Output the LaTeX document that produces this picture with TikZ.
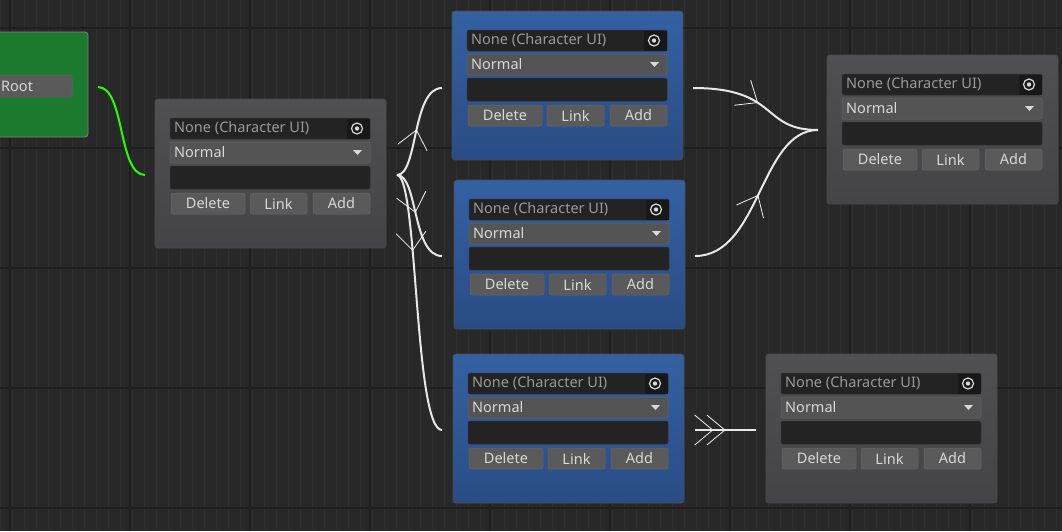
\documentclass[tikz,border=0pt]{standalone}
\usepackage{fontspec}
\setmainfont{Noto Sans}
\usetikzlibrary{arrows.meta,decorations.markings}
\definecolor{bg}{HTML}{282828}
\definecolor{gmin}{HTML}{303030}
\definecolor{gmaj}{HTML}{1E1E1E}
\definecolor{grayTop}{HTML}{505053}
\definecolor{grayBot}{HTML}{444447}
\definecolor{blueTop}{HTML}{3461A3}
\definecolor{blueBot}{HTML}{2A4C85}
\definecolor{fieldc}{HTML}{232323}
\definecolor{dropc}{HTML}{545454}
\definecolor{btnc}{HTML}{5A5A5A}
\definecolor{txt}{HTML}{D8D8D8}
\definecolor{dimtxt}{HTML}{9A9A9A}
\definecolor{greenN}{HTML}{1D7B2F}
\definecolor{wire}{HTML}{E8E8E8}
\tikzset{
  x=1pt,y=-1pt,
  nodebody/.style={rounded corners=3pt,draw=black!70,line width=0.8pt},
  fieldbox/.style={fill=fieldc,draw=black!80,rounded corners=2pt,line width=0.5pt},
  dropbox/.style={fill=dropc,draw=black!60,rounded corners=2pt,line width=0.5pt},
  btnbox/.style={fill=btnc,draw=black!60,rounded corners=2pt,line width=0.5pt},
  lbl/.style={text=txt,font=\fontsize{14.5}{16}\selectfont,inner sep=0pt},
  dimlbl/.style={text=dimtxt,font=\fontsize{14.5}{16}\selectfont,inner sep=0pt},
  wirestyle/.style={draw=wire,line width=2pt},
  midarrow/.style={postaction={decorate,decoration={markings,mark=at position #1 with {\arrow[wire!70,line width=0.8pt]{Straight Barb[length=18pt,width=30pt]}}}}}
}
\newcommand\uinode[5]{% x y topcolor botcolor name
  \begin{scope}[shift={(#1,#2)}]
  \shade[nodebody,top color=#3,bottom color=#4] (0,0) rectangle (231,149);
  \draw[fieldbox] (15,19) rectangle (215,40);
  \fill[fieldc!70!black] (192,19.5) rectangle (214.5,39.5);
  \node[dimlbl,anchor=west] at (19,29.5) {None (Character UI)};
  \draw[txt,line width=1.2pt] (202,29.5) circle (5.5pt);
  \fill[txt] (202,29.5) circle (2.2pt);
  \draw[dropbox] (15,43) rectangle (215,64);
  \node[lbl,anchor=west] at (19,53.5) {Normal};
  \fill[txt] (198,51) -- (207,51) -- (202.5,56) -- cycle;
  \draw[fieldbox] (15,67) rectangle (215,90);
  \draw[btnbox] (16,94) rectangle (90,115);
  \node[lbl] at (53,104.5) {Delete};
  \draw[btnbox] (95,94) rectangle (152,115);
  \node[lbl] at (123.5,104.5) {Link};
  \draw[btnbox] (158,94) rectangle (215,115);
  \node[lbl] at (186.5,104.5) {Add};
  \coordinate (#5-in) at (-10,76);
  \coordinate (#5-out) at (241,76);
  \end{scope}}
\begin{document}
\begin{tikzpicture}
\fill[bg] (0,0) rectangle (1062,531);
\useasboundingbox (0,0) rectangle (1062,531);
\draw[gmin,line width=0.8pt] (0,0) grid[step=12] (1062,531);
\foreach \x in {0,120,...,1062} \draw[gmaj,line width=1.2pt] (\x+10,0) -- (\x+10,531);
\foreach \y in {0,120,...,531} \draw[gmaj,line width=1.2pt] (0,\y+28) -- (1062,\y+28);
% root
\draw[nodebody,fill=greenN,draw=black!50] (-10,32) rectangle (88,137);
\draw[btnbox] (-10,75) rectangle (72,97);
\node[lbl,anchor=west] at (1,86) {Root};
\coordinate (root-out) at (98,87);
\uinode{155}{99}{grayTop}{grayBot}{A}
\uinode{452}{11}{blueTop}{blueBot}{B1}
\uinode{454}{180}{blueTop}{blueBot}{B2}
\uinode{453}{354}{blueTop}{blueBot}{B3}
\uinode{827}{55}{grayTop}{grayBot}{C1}
\uinode{766}{354}{grayTop}{grayBot}{C2}
\coordinate (A-o) at (397,175);
\coordinate (B1-i) at (442,88);
\coordinate (B2-i) at (442,256);
\coordinate (B3-i) at (442,430);
\coordinate (B1-o) at (693,88);
\coordinate (B2-o) at (695,256);
\coordinate (B3-o) at (695,430);
\coordinate (C1-i) at (818,130);
\coordinate (C2-i) at (756,430);
\draw[draw=green!80!lime,line width=2pt] (root-out) .. controls (125,87) and (118,175) .. (A-in);
\draw[wirestyle,midarrow=0.5] (A-o) .. controls (418,175) and (412,88) .. (B1-i);
\draw[wirestyle,midarrow=0.45] (A-o) .. controls (418,175) and (412,256) .. (B2-i);
\draw[wirestyle,midarrow=0.3] (A-o) .. controls (418,175) and (414,430) .. (B3-i);
\draw[wirestyle,midarrow=0.5] (B1-o) .. controls (780,88) and (760,130) .. (C1-i);
\draw[wirestyle,midarrow=0.5] (B2-o) .. controls (760,256) and (760,130) .. (C1-i);
\draw[wirestyle,midarrow=0.3,midarrow=0.5] (B3-o) -- (C2-i);
\end{tikzpicture}
\end{document}
